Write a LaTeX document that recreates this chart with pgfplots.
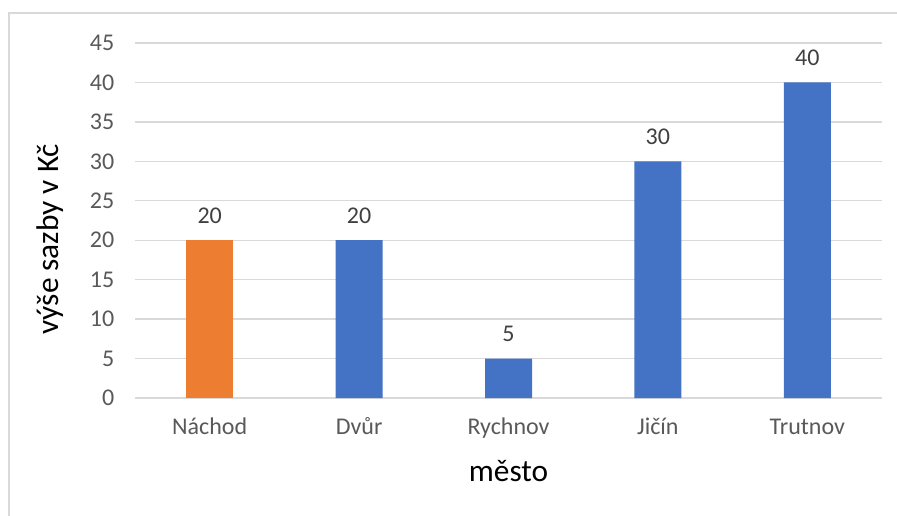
\documentclass[border=0pt]{standalone}
\usepackage{pgfplots}
\pgfplotsset{compat=1.18}
\usepackage{fontspec}
\setmainfont{Carlito}
\definecolor{barblue}{HTML}{4472C4}
\definecolor{barorange}{HTML}{ED7D31}
\definecolor{gridgray}{HTML}{D9D9D9}
\definecolor{ticktxt}{HTML}{595959}
\definecolor{lbltxt}{HTML}{404040}
\begin{document}
\begin{tikzpicture}
\useasboundingbox (0pt,0pt) rectangle (672.75pt,-386.25pt);
\draw[gridgray,line width=1pt] (6.75pt,-390pt) -- (6.75pt,-9.75pt) -- (680pt,-9.75pt);
\begin{axis}[
  at={(101.25pt,-298.5pt)}, anchor=south west,
  scale only axis, width=560.25pt, height=266.25pt,
  xmin=-0.5, xmax=4.5, ymin=0, ymax=45,
  xtick={0,1,2,3,4},
  xticklabels={Náchod,Dvůr,Rychnov,Jičín,Trutnov},
  ytick={0,5,...,45},
  axis x line*=bottom, axis y line*=left,
  x axis line style={gridgray,line width=1pt},
  y axis line style={draw=none},
  ymajorgrids, grid style={gridgray,line width=1pt},
  major tick length=0pt,
  tick label style={font=\fontsize{18}{21}\selectfont, text=ticktxt},
  /pgf/number format/assume math mode=true,
  yticklabel style={xshift=-12pt},
  xticklabel style={text height=12pt, text depth=4pt, anchor=north, yshift=-12pt},
  ybar, bar width=35.25pt, bar shift=0pt,
  nodes near coords,
  every node near coord/.append style={font=\fontsize{18}{21}\selectfont, text=lbltxt, yshift=9pt},
  xlabel={město}, ylabel={výše sazby v Kč},
  xlabel style={font=\fontsize{23.5}{27}\selectfont, yshift=-8pt},
  ylabel style={font=\fontsize{23.5}{27}\selectfont, yshift=13pt, xshift=-14pt},
  clip=false,
]
\addplot[fill=barorange, draw=none] coordinates {(0,20)};
\addplot[fill=barblue, draw=none] coordinates {(1,20) (2,5) (3,30) (4,40)};
\end{axis}
\end{tikzpicture}
\end{document}
